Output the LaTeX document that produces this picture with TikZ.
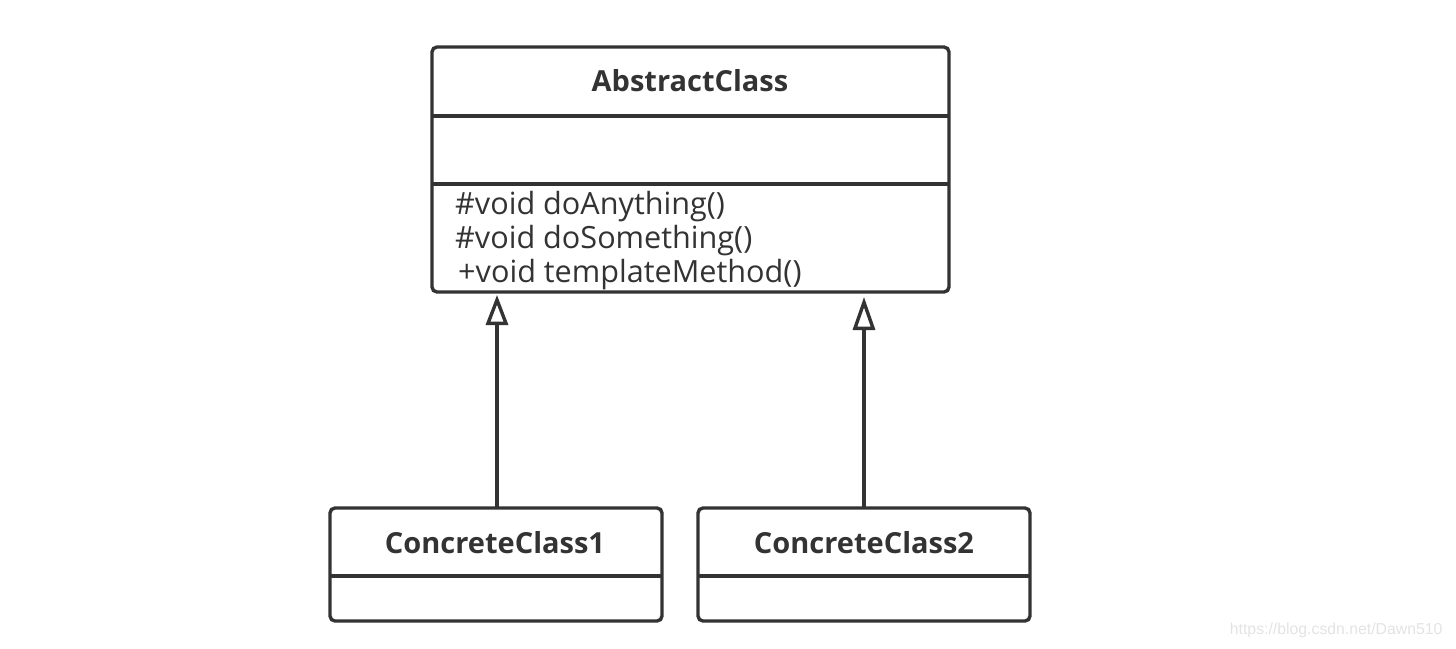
\documentclass[tikz,border=0pt]{standalone}
\usepackage{fontspec}
\setmainfont{Open Sans}
\newfontfamily\wmfont{Liberation Sans}
\usetikzlibrary{arrows.meta}
\definecolor{ink}{HTML}{333333}
\definecolor{wm}{HTML}{E3E3E3}
\begin{document}
\begin{tikzpicture}[x=1pt,y=-1pt,
  box/.style={draw=ink,line width=3.4pt,rounded corners=5pt},
  sep/.style={draw=ink,line width=3.4pt},
  title/.style={font=\fontsize{29}{32}\selectfont\bfseries,text=ink},
  member/.style={font=\fontsize{30.6}{32}\selectfont,text=ink,anchor=base west,inner sep=0pt},
  inherit/.style={draw=ink,line width=3.4pt,-{Triangle[open,length=#1,width=22pt,line width=3.4pt]}}]
\useasboundingbox (0,0) rectangle (1456,648);
% AbstractClass
\draw[box] (432,47) rectangle (949,292);
\draw[sep] (432,116) -- (949,116);
\draw[sep] (432,184) -- (949,184);
\node[title] (abs) at (690,81) {AbstractClass};
\node[member] (m1) at (455,214) {\#void doAnything()};
\node[member] (m2) at (455,248) {\#void doSomething()};
\node[member] (m3) at (458,282) {+void templateMethod()};
% ConcreteClass1
\draw[box] (330,508) rectangle (662,621);
\draw[sep] (330,576) -- (662,576);
\node[title] (c1) at (495,543) {ConcreteClass1};
% ConcreteClass2
\draw[box] (698,508) rectangle (1030,621);
\draw[sep] (698,576) -- (1030,576);
\node[title] (c2) at (864,543) {ConcreteClass2};
% anchors for connectors
\coordinate (c1top) at (497,508);
\coordinate (c2top) at (864,508);
\coordinate (abs1) at (497,295);
\coordinate (abs2) at (864,297);
\draw[inherit=30pt] (c1top) -- (abs1);
\draw[inherit=33pt] (c2top) -- (abs2);
% watermark
\node[font=\fontsize{15.8}{18}\selectfont\wmfont,text=wm,anchor=east] (wmk) at (1446,630) {https://blog.csdn.net/Dawn510};
\end{tikzpicture}
\end{document}
